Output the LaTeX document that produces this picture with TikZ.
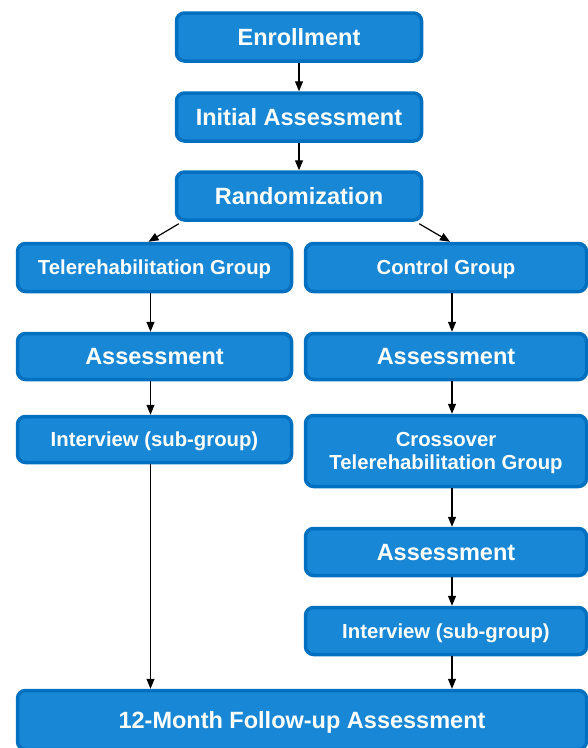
\documentclass[tikz,border=0pt]{standalone}
\usepackage{fontspec}
\setmainfont{Liberation Sans}
\usetikzlibrary{arrows.meta}

\definecolor{boxfill}{HTML}{1887D5}
\definecolor{boxline}{HTML}{0270C0}

\begin{document}
\begin{tikzpicture}[x=1pt,y=-1pt,
  box/.style={draw=boxline, fill=boxfill, line width=3.5pt, rounded corners=8pt,
    text=white, font=\bfseries\fontsize{23.5}{28}\selectfont, align=center,
    inner sep=0pt, text depth=0pt, minimum height=48pt},
  small/.style={font=\bfseries\fontsize{20.3}{23.6}\selectfont},
  arr/.style={-{Triangle[length=10pt,width=8pt]}, line width=1.2pt, black}]
\useasboundingbox (0,0) rectangle (588,748);

\def\wt{245pt}
\def\wl{274pt}
\def\wr{281pt}

% top of the flow
\node[box, minimum width=\wt] (enrol) at (299,37) {Enrollment};
\node[box, minimum width=\wt] (init) at (299,117) {Initial Assessment};
\node[box, minimum width=\wt] (rand) at (299,196) {Randomization};

% left branch
\node[box, small, minimum width=\wl] (tele) at (154.5,267.5) {Telerehabilitation Group};
\node[box, minimum width=\wl, minimum height=46pt] (lass) at (154.5,356.5) {Assessment};
\node[box, small, minimum width=\wl, minimum height=46pt] (lint) at (154.5,439.5) {Interview (sub-group)};

% right branch
\node[box, small, minimum width=\wr] (ctrl) at (446,267.5) {Control Group};
\node[box, minimum width=\wr, minimum height=46pt] (rass) at (446,356.5) {Assessment};
\node[box, small, minimum width=\wr, minimum height=71pt] (cross) at (446,451) {Crossover\\Telerehabilitation Group};
\node[box, minimum width=\wr, minimum height=47pt] (rass2) at (446,552) {Assessment};
\node[box, small, minimum width=\wr, minimum height=47pt] (rint) at (446,631) {Interview (sub-group)};

% both branches end here
\node[box, minimum width=569pt, minimum height=59pt] (follow) at (302,720) {12-Month Follow-up Assessment};

\draw[arr] (enrol) -- (init);
\draw[arr] (init) -- (rand);
\draw[arr] ([xshift=4pt,yshift=-2pt]rand.south west) -- ([xshift=-6pt]tele.north);
\draw[arr] ([xshift=-4pt,yshift=-2pt]rand.south east) -- ([xshift=4pt]ctrl.north);

\foreach \a/\b in {tele/lass, lass/lint, lint/follow}
{
    \draw[arr] (\a.south -| 150.5,0) -- (\b.north -| 150.5,0);
}

\foreach \a/\b in {ctrl/rass, rass/cross, cross/rass2, rass2/rint, rint/follow}
{
    \draw[arr] (\a.south -| 452,0) -- (\b.north -| 452,0);
}

\end{tikzpicture}
\end{document}
